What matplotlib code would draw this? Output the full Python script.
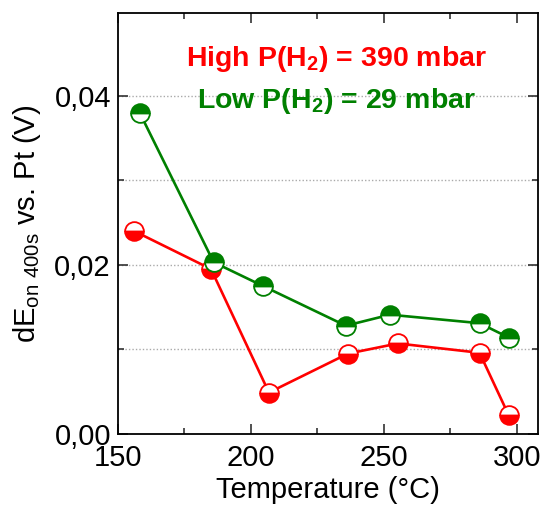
import matplotlib.pyplot as plt
from matplotlib.ticker import MultipleLocator, FuncFormatter

plt.rcParams['font.family'] = ['Liberation Sans', 'DejaVu Sans']
plt.rcParams['mathtext.default'] = 'regular'

# data
temp_high = [156, 185, 206.8, 236.5, 255.3, 286, 297]
de_high = [0.0240, 0.0195, 0.0049, 0.0095, 0.0107, 0.0096, 0.0022]
temp_low = [158.3, 186, 204.5, 235.7, 252.3, 286, 297]
de_low = [0.0379, 0.0203, 0.0175, 0.0128, 0.0141, 0.0131, 0.0114]

red = '#ff0000'
green = '#008000'

fig = plt.figure(figsize=(5.41, 5.07), dpi=100)
ax = fig.add_axes([0.218, 0.144, 0.7765, 0.831])

ax.plot(temp_high, de_high, color=red, lw=1.9, marker='o', ms=13.5,
        fillstyle='bottom', mfc=red, mfcalt='white', mec=red, mew=1.3, zorder=3)
ax.plot(temp_low, de_low, color=green, lw=1.9, marker='o', ms=13.5,
        fillstyle='top', mfc=green, mfcalt='white', mec=green, mew=1.3, zorder=4)

ax.set_xlim(150, 308)
ax.set_ylim(0, 0.0498)
ax.xaxis.set_major_locator(MultipleLocator(50))
ax.xaxis.set_minor_locator(MultipleLocator(25))
ax.yaxis.set_major_locator(MultipleLocator(0.02))
ax.yaxis.set_minor_locator(MultipleLocator(0.01))
ax.yaxis.set_major_formatter(FuncFormatter(lambda v, p: f'{v:.2f}'.replace('.', ',')))

ax.tick_params(which='both', direction='in', top=True, right=True, labelsize=21,
               width=1.2, color='#333333')
ax.tick_params(which='major', length=7)
ax.tick_params(which='minor', length=4)
ax.tick_params(axis='y', pad=5)
ax.tick_params(axis='x', pad=7)

for y in [0.01, 0.02, 0.03, 0.04]:
    ax.axhline(y, color='#aaaaaa', lw=1, ls=(0, (1, 1.5)), zorder=1)

for s in ax.spines.values():
    s.set_linewidth(1.3)

ax.set_xlabel('Temperature (°C)', fontsize=21, labelpad=3)
ax.set_ylabel('dE$_{on\\ 400s}$ vs. Pt (V)', fontsize=21, labelpad=8)

ax.text(0.52, 0.89, 'High P(H$_2$) = 390 mbar', transform=ax.transAxes,
        ha='center', va='center', color=red, fontsize=20.5, fontweight='bold')
ax.text(0.52, 0.79, 'Low P(H$_2$) = 29 mbar', transform=ax.transAxes,
        ha='center', va='center', color=green, fontsize=20.5, fontweight='bold')

fig.savefig('out.png', dpi=100)
